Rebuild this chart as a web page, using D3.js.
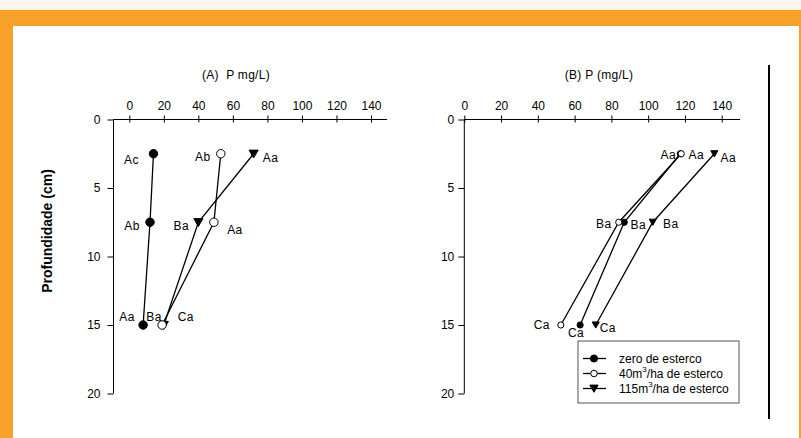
<!DOCTYPE html>
<html>
<head>
<meta charset="utf-8">
<script src="https://cdn.jsdelivr.net/npm/d3@7"></script>
<style>
  body { margin: 0; background: #fdf6ef; }
  svg { display: block; font-family: "Liberation Sans", Arial, sans-serif; }
</style>
</head>
<body>
<svg id="chart" width="801" height="438"></svg>
<script>
// depths (cm) for each sample
var depths = [2.5, 7.5, 15];
var yTicks = [0, 5, 10, 15, 20];
var xTicks = [0, 20, 40, 60, 80, 100, 120, 140];

// series names
var seriesNames = ["zero de esterco", "40m3/ha de esterco", "115m3/ha de esterco"];

// (A) P mg/L
var pA_zero = [14, 12, 8];
var pA_40 = [53, 49, 19];
var pA_115 = [72, 40, 20];
var lblA_zero = ["Ac", "Ab", "Aa"];
var lblA_40 = ["Ab", "Aa", "Ba"];
var lblA_115 = ["Aa", "Ba", "Ca"];

// (B) P (mg/L)
var pB_zero = [117.5, 87, 63];
var pB_40 = [118, 84, 52.5];
var pB_115 = [136, 102.5, 71.5];
var lblB_zero = ["Aa", "Ba", "Ca"];
var lblB_40 = ["Aa", "Ba", "Ca"];
var lblB_115 = ["Aa", "Ba", "Ca"];

var svg = d3.select("#chart");

// background frame
svg.append("rect").attr("width", 801).attr("height", 438).attr("fill", "#fdf6ef");
svg.append("rect").attr("x", 0).attr("y", 10).attr("width", 801).attr("height", 428).attr("fill", "#f7a128");
svg.append("rect").attr("x", 13).attr("y", 26).attr("width", 786).attr("height", 412).attr("fill", "#fff");

// y label
svg.append("text")
    .attr("transform", "translate(47,231) rotate(-90)")
    .attr("text-anchor", "middle")
    .attr("dominant-baseline", "central")
    .style("font-size", "14px")
    .style("font-weight", "bold")
    .text("Profundidade (cm)");

// label offsets (dx, dy) relative to the point, per series / depth
var offA = [
    [[-22, 6], [-18, 4], [-16, -8]],
    [[-18, 3], [21, 8], [-8, -8]],
    [[17, 4], [-17, 4], [22, -8]]
];
var offB = [
    [[16, 1], [14, 3], [-4, 8]],
    [[-13, 1], [-15, 2], [-19, 0]],
    [[14, 4], [18, 2], [12, 3]]
];

var circle = d3.symbol().type(d3.symbolCircle);
var tri = d3.symbol().type(d3.symbolTriangle);

function panel(opt) {
    var x = d3.scaleLinear().domain([0, 140]).range(opt.xr);
    var y = d3.scaleLinear().domain([0, 20]).range([119.5, 393.5]);
    var g = svg.append("g");

    // x axis on top
    var xAxis = d3.axisTop(x).tickValues(xTicks).tickSizeInner(4).tickSizeOuter(0).tickPadding(6);
    var gx = g.append("g").attr("transform", "translate(0," + y(0) + ")").call(xAxis);
    gx.select(".domain").remove();
    gx.selectAll(".tick line").attr("y2", -4).attr("y1", 3);
    gx.append("line")
        .attr("x1", opt.yx).attr("x2", x(opt.xEnd))
        .attr("stroke", "#000");

    // y axis
    var yAxis = d3.axisLeft(y).tickValues(yTicks).tickSize(6).tickSizeOuter(0).tickPadding(opt.yPad);
    var gy = g.append("g").attr("transform", "translate(" + opt.yx + ",0)").call(yAxis);
    gy.select(".domain").attr("d", "M0," + y(0) + "V" + y(20));

    g.selectAll(".tick text").style("font-size", "12px").attr("fill", "#000");
    g.selectAll(".tick line").attr("stroke", "#000");
    g.selectAll(".domain").attr("stroke", "#000");

    // title
    g.append("text")
        .attr("x", opt.titleX).attr("y", 79)
        .attr("text-anchor", "middle")
        .style("font-size", "12px")
        .style("letter-spacing", "0.3px")
        .style("white-space", "pre")
        .text(opt.title);

    var line = d3.line()
        .x(function(d) { return x(d[0]); })
        .y(function(d) { return y(d[1]); });

    var series = [
        {vals: opt.zero, lbl: opt.lz, sym: circle, fill: "#000", r: opt.cs, rot: 0},
        {vals: opt.s40, lbl: opt.l40, sym: circle, fill: "#fff", r: opt.cs, rot: 0},
        {vals: opt.s115, lbl: opt.l115, sym: tri, fill: "#000", r: opt.ts, rot: 180}
    ];
    // draw order: triangle line, zero, 40 on top
    [2, 0, 1].forEach(function(si) {
        var s = series[si];
        var pts = s.vals.map(function(v, i) { return [v, depths[i]]; });
        g.append("path")
            .attr("d", line(pts))
            .attr("fill", "none")
            .attr("stroke", "#000")
            .attr("stroke-width", 1.3);
        g.selectAll(null).data(pts).enter().append("path")
            .attr("d", s.sym.size(s.r))
            .attr("transform", function(d) {
                return "translate(" + x(d[0]) + "," + (y(d[1]) + (s.rot ? -1 : 0)) + ") rotate(" + s.rot + ")";
            })
            .attr("fill", s.fill)
            .attr("stroke", "#000")
            .attr("stroke-width", 1);
        g.selectAll(null).data(pts).enter().append("text")
            .attr("x", function(d, i) { return x(d[0]) + opt.off[si][i][0]; })
            .attr("y", function(d, i) { return y(d[1]) + opt.off[si][i][1]; })
            .attr("text-anchor", "middle")
            .attr("dominant-baseline", "central")
            .style("font-size", "12px")
            .style("letter-spacing", "0.4px")
            .text(function(d, i) { return s.lbl[i]; });
    });
    return {x: x, y: y, g: g};
}

panel({
    xr: [129.3, 371], yx: 113.5, xEnd: 149.3, yPad: 7,
    title: "(A)  P mg/L)", titleX: 236,
    zero: pA_zero, s40: pA_40, s115: pA_115,
    lz: lblA_zero, l40: lblA_40, l115: lblA_115,
    off: offA, cs: 56, ts: 36
});

var pb = panel({
    xr: [464.3, 721.7], yx: 464.3, xEnd: 150, yPad: 4,
    title: "(B) P (mg/L)", titleX: 599,
    zero: pB_zero, s40: pB_40, s115: pB_115,
    lz: lblB_zero, l40: lblB_40, l115: lblB_115,
    off: offB, cs: 30, ts: 22
});

// vertical separator on the right
svg.append("line")
    .attr("x1", 769).attr("x2", 769).attr("y1", 65).attr("y2", 419)
    .attr("stroke", "#000").attr("stroke-width", 2);

// legend
var leg = svg.append("g").attr("transform", "translate(578,341)");
leg.append("rect")
    .attr("width", 161).attr("height", 62)
    .attr("fill", "#fff").attr("stroke", "#555").attr("stroke-width", 1);
var legSyms = [
    {sym: circle, fill: "#000", s: 40, rot: 0},
    {sym: circle, fill: "#fff", s: 34, rot: 0},
    {sym: tri, fill: "#000", s: 30, rot: 180}
];
var legItems = leg.selectAll(".item").data(seriesNames).enter().append("g")
    .attr("transform", function(d, i) { return "translate(0," + (17.5 + i * 15) + ")"; });
legItems.append("line")
    .attr("x1", 5).attr("x2", 28)
    .attr("stroke", "#000").attr("stroke-width", 1.3);
legItems.append("path")
    .attr("d", function(d, i) { return legSyms[i].sym.size(legSyms[i].s)(); })
    .attr("transform", function(d, i) { return "translate(16," + (legSyms[i].rot ? -1 : 0) + ") rotate(" + legSyms[i].rot + ")"; })
    .attr("fill", function(d, i) { return legSyms[i].fill; })
    .attr("stroke", "#000");
var legText = legItems.append("text")
    .attr("x", 41)
    .attr("dominant-baseline", "central")
    .style("font-size", "12px");
legText.each(function(d) {
    var t = d3.select(this);
    var parts = d.split("m3");
    if (parts.length === 1) { t.text(d); return; }
    t.append("tspan").text(parts[0] + "m");
    t.append("tspan").attr("dy", -5).style("font-size", "8px").text("3");
    t.append("tspan").attr("dy", 5).text(parts[1]);
});
</script>
</body>
</html>
